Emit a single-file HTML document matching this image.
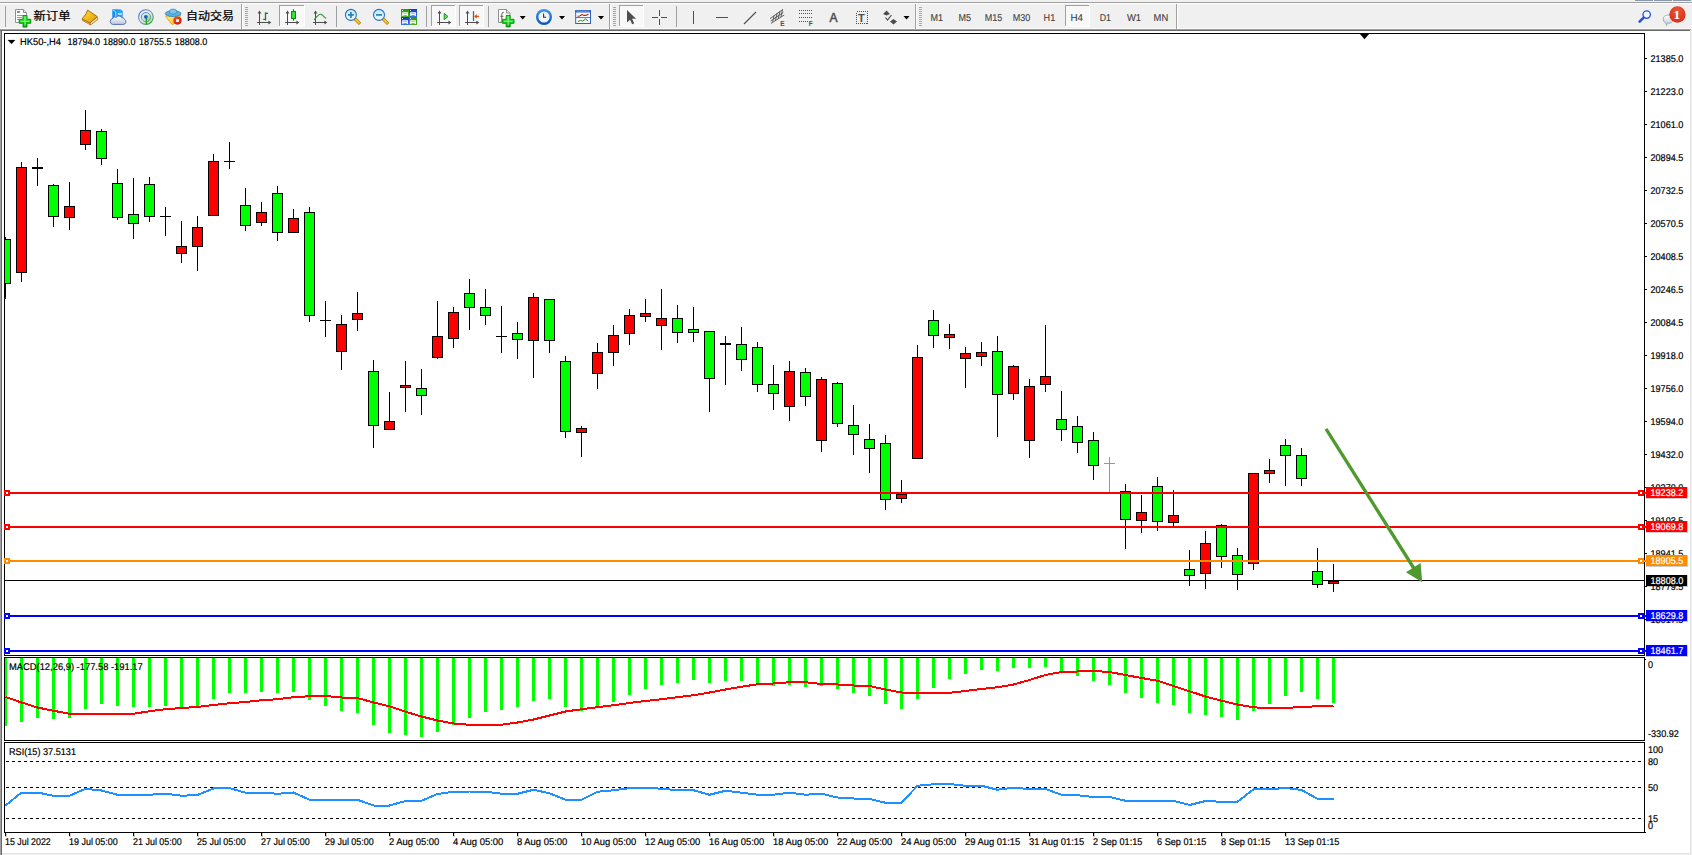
<!DOCTYPE html>
<html lang="zh-CN"><head><meta charset="utf-8"><title>HK50-,H4</title>
<style>
html,body{margin:0;padding:0;background:#f0f0f0;overflow:hidden}
body{width:1692px;height:855px;font-family:"Liberation Sans","Noto Sans CJK SC",sans-serif}
svg{display:block;position:absolute;left:0;top:0}
svg text{white-space:pre}
</style></head><body>
<svg width="1692" height="855" viewBox="0 0 1692 855">
<rect x="0" y="0" width="1692" height="855" fill="#f0f0f0"/>
<rect x="1635" y="0" width="18" height="1" fill="#8a98ae"/>
<rect x="1654" y="0" width="18" height="1" fill="#8a98ae"/>
<rect x="1673" y="0" width="18" height="1" fill="#8a98ae"/>
<rect x="0" y="2" width="1692" height="1" fill="#a0a0a0"/>
<rect x="0" y="3" width="1692" height="1" fill="#ffffff"/>
<rect x="0" y="28" width="1692" height="1" fill="#fafafa"/>
<rect x="0" y="29" width="1691" height="1" fill="#a0a0a0"/>
<rect x="0" y="30" width="1690" height="1" fill="#696969"/>
<rect x="0" y="31" width="1" height="824" fill="#a0a0a0"/>
<rect x="1" y="31" width="1" height="824" fill="#696969"/>
<rect x="2" y="31" width="1688" height="822" fill="#ffffff"/>
<rect x="1690" y="31" width="1" height="823" fill="#e3e3e3"/>
<rect x="2" y="853" width="1689" height="1" fill="#e3e3e3"/>
<g shape-rendering="crispEdges">
<rect x="4" y="33" width="1641" height="1" fill="#000"/>
<rect x="4" y="655" width="1641" height="1" fill="#000"/>
<rect x="4" y="33" width="1" height="623" fill="#000"/>
<rect x="1644" y="33" width="1" height="623" fill="#000"/>
<rect x="4" y="657" width="1641" height="1" fill="#000"/>
<rect x="4" y="740" width="1641" height="1" fill="#000"/>
<rect x="4" y="657" width="1" height="84" fill="#000"/>
<rect x="1644" y="657" width="1" height="84" fill="#000"/>
<rect x="4" y="742" width="1641" height="1" fill="#000"/>
<rect x="4" y="832" width="1641" height="1" fill="#000"/>
<rect x="4" y="742" width="1" height="91" fill="#000"/>
<rect x="1644" y="742" width="1" height="91" fill="#000"/>
<rect x="1645" y="832" width="1" height="1" fill="#000"/>
<rect x="1645" y="659" width="1" height="1" fill="#000"/>
<rect x="5" y="580" width="1639" height="1" fill="#000"/>
<path d="M1359.5 33.5 H1369.5 L1364.5 39.2 Z" fill="#000" shape-rendering="geometricPrecision"/>
<rect x="5" y="237" width="1" height="62" fill="#000"/>
<rect x="5" y="239" width="6" height="45" fill="#000"/>
<rect x="5" y="240" width="5" height="43" fill="#00ff00"/>
<rect x="21" y="162" width="1" height="120" fill="#000"/>
<rect x="16" y="167" width="11" height="106" fill="#000"/>
<rect x="17" y="168" width="9" height="104" fill="#ff0000"/>
<rect x="37" y="158" width="1" height="28" fill="#000"/>
<rect x="32" y="167" width="11" height="2" fill="#000"/>
<rect x="53" y="184" width="1" height="43" fill="#000"/>
<rect x="48" y="185" width="11" height="32" fill="#000"/>
<rect x="49" y="186" width="9" height="30" fill="#00ff00"/>
<rect x="69" y="182" width="1" height="48" fill="#000"/>
<rect x="64" y="206" width="11" height="12" fill="#000"/>
<rect x="65" y="207" width="9" height="10" fill="#ff0000"/>
<rect x="85" y="110" width="1" height="40" fill="#000"/>
<rect x="80" y="130" width="11" height="15" fill="#000"/>
<rect x="81" y="131" width="9" height="13" fill="#ff0000"/>
<rect x="101" y="129" width="1" height="36" fill="#000"/>
<rect x="96" y="131" width="11" height="28" fill="#000"/>
<rect x="97" y="132" width="9" height="26" fill="#00ff00"/>
<rect x="117" y="169" width="1" height="51" fill="#000"/>
<rect x="112" y="183" width="11" height="35" fill="#000"/>
<rect x="113" y="184" width="9" height="33" fill="#00ff00"/>
<rect x="133" y="178" width="1" height="61" fill="#000"/>
<rect x="128" y="214" width="11" height="10" fill="#000"/>
<rect x="129" y="215" width="9" height="8" fill="#00ff00"/>
<rect x="149" y="177" width="1" height="45" fill="#000"/>
<rect x="144" y="184" width="11" height="33" fill="#000"/>
<rect x="145" y="185" width="9" height="31" fill="#00ff00"/>
<rect x="165" y="207" width="1" height="29" fill="#000"/>
<rect x="160" y="216" width="11" height="1" fill="#000"/>
<rect x="181" y="221" width="1" height="42" fill="#000"/>
<rect x="176" y="246" width="11" height="8" fill="#000"/>
<rect x="177" y="247" width="9" height="6" fill="#ff0000"/>
<rect x="197" y="216" width="1" height="55" fill="#000"/>
<rect x="192" y="227" width="11" height="20" fill="#000"/>
<rect x="193" y="228" width="9" height="18" fill="#ff0000"/>
<rect x="213" y="154" width="1" height="62" fill="#000"/>
<rect x="208" y="161" width="11" height="55" fill="#000"/>
<rect x="209" y="162" width="9" height="53" fill="#ff0000"/>
<rect x="229" y="142" width="1" height="27" fill="#000"/>
<rect x="224" y="161" width="11" height="1" fill="#000"/>
<rect x="245" y="188" width="1" height="43" fill="#000"/>
<rect x="240" y="205" width="11" height="21" fill="#000"/>
<rect x="241" y="206" width="9" height="19" fill="#00ff00"/>
<rect x="261" y="202" width="1" height="24" fill="#000"/>
<rect x="256" y="212" width="11" height="11" fill="#000"/>
<rect x="257" y="213" width="9" height="9" fill="#ff0000"/>
<rect x="277" y="186" width="1" height="55" fill="#000"/>
<rect x="272" y="193" width="11" height="40" fill="#000"/>
<rect x="273" y="194" width="9" height="38" fill="#00ff00"/>
<rect x="293" y="209" width="1" height="24" fill="#000"/>
<rect x="288" y="218" width="11" height="15" fill="#000"/>
<rect x="289" y="219" width="9" height="13" fill="#ff0000"/>
<rect x="309" y="207" width="1" height="115" fill="#000"/>
<rect x="304" y="212" width="11" height="104" fill="#000"/>
<rect x="305" y="213" width="9" height="102" fill="#00ff00"/>
<rect x="325" y="301" width="1" height="36" fill="#000"/>
<rect x="320" y="320" width="11" height="1" fill="#000"/>
<rect x="341" y="315" width="1" height="55" fill="#000"/>
<rect x="336" y="324" width="11" height="28" fill="#000"/>
<rect x="337" y="325" width="9" height="26" fill="#ff0000"/>
<rect x="357" y="292" width="1" height="39" fill="#000"/>
<rect x="352" y="313" width="11" height="7" fill="#000"/>
<rect x="353" y="314" width="9" height="5" fill="#ff0000"/>
<rect x="373" y="360" width="1" height="88" fill="#000"/>
<rect x="368" y="371" width="11" height="55" fill="#000"/>
<rect x="369" y="372" width="9" height="53" fill="#00ff00"/>
<rect x="389" y="392" width="1" height="38" fill="#000"/>
<rect x="384" y="421" width="11" height="9" fill="#000"/>
<rect x="385" y="422" width="9" height="7" fill="#ff0000"/>
<rect x="405" y="361" width="1" height="51" fill="#000"/>
<rect x="400" y="385" width="11" height="3" fill="#000"/>
<rect x="401" y="386" width="9" height="1" fill="#ff0000"/>
<rect x="421" y="369" width="1" height="46" fill="#000"/>
<rect x="416" y="388" width="11" height="8" fill="#000"/>
<rect x="417" y="389" width="9" height="6" fill="#00ff00"/>
<rect x="437" y="301" width="1" height="58" fill="#000"/>
<rect x="432" y="336" width="11" height="22" fill="#000"/>
<rect x="433" y="337" width="9" height="20" fill="#ff0000"/>
<rect x="453" y="307" width="1" height="41" fill="#000"/>
<rect x="448" y="312" width="11" height="27" fill="#000"/>
<rect x="449" y="313" width="9" height="25" fill="#ff0000"/>
<rect x="469" y="279" width="1" height="51" fill="#000"/>
<rect x="464" y="293" width="11" height="15" fill="#000"/>
<rect x="465" y="294" width="9" height="13" fill="#00ff00"/>
<rect x="485" y="289" width="1" height="36" fill="#000"/>
<rect x="480" y="307" width="11" height="9" fill="#000"/>
<rect x="481" y="308" width="9" height="7" fill="#00ff00"/>
<rect x="501" y="306" width="1" height="47" fill="#000"/>
<rect x="496" y="336" width="11" height="1" fill="#000"/>
<rect x="517" y="322" width="1" height="37" fill="#000"/>
<rect x="512" y="333" width="11" height="7" fill="#000"/>
<rect x="513" y="334" width="9" height="5" fill="#00ff00"/>
<rect x="533" y="293" width="1" height="85" fill="#000"/>
<rect x="528" y="297" width="11" height="44" fill="#000"/>
<rect x="529" y="298" width="9" height="42" fill="#ff0000"/>
<rect x="549" y="299" width="1" height="54" fill="#000"/>
<rect x="544" y="299" width="11" height="42" fill="#000"/>
<rect x="545" y="300" width="9" height="40" fill="#00ff00"/>
<rect x="565" y="356" width="1" height="82" fill="#000"/>
<rect x="560" y="361" width="11" height="71" fill="#000"/>
<rect x="561" y="362" width="9" height="69" fill="#00ff00"/>
<rect x="581" y="426" width="1" height="31" fill="#000"/>
<rect x="576" y="428" width="11" height="5" fill="#000"/>
<rect x="577" y="429" width="9" height="3" fill="#ff0000"/>
<rect x="597" y="343" width="1" height="46" fill="#000"/>
<rect x="592" y="352" width="11" height="22" fill="#000"/>
<rect x="593" y="353" width="9" height="20" fill="#ff0000"/>
<rect x="613" y="325" width="1" height="41" fill="#000"/>
<rect x="608" y="335" width="11" height="18" fill="#000"/>
<rect x="609" y="336" width="9" height="16" fill="#ff0000"/>
<rect x="629" y="309" width="1" height="36" fill="#000"/>
<rect x="624" y="315" width="11" height="19" fill="#000"/>
<rect x="625" y="316" width="9" height="17" fill="#ff0000"/>
<rect x="645" y="299" width="1" height="23" fill="#000"/>
<rect x="640" y="313" width="11" height="4" fill="#000"/>
<rect x="641" y="314" width="9" height="2" fill="#ff0000"/>
<rect x="661" y="289" width="1" height="61" fill="#000"/>
<rect x="656" y="318" width="11" height="8" fill="#000"/>
<rect x="657" y="319" width="9" height="6" fill="#ff0000"/>
<rect x="677" y="305" width="1" height="38" fill="#000"/>
<rect x="672" y="318" width="11" height="15" fill="#000"/>
<rect x="673" y="319" width="9" height="13" fill="#00ff00"/>
<rect x="693" y="307" width="1" height="35" fill="#000"/>
<rect x="688" y="329" width="11" height="4" fill="#000"/>
<rect x="689" y="330" width="9" height="2" fill="#00ff00"/>
<rect x="709" y="331" width="1" height="81" fill="#000"/>
<rect x="704" y="331" width="11" height="48" fill="#000"/>
<rect x="705" y="332" width="9" height="46" fill="#00ff00"/>
<rect x="725" y="336" width="1" height="49" fill="#000"/>
<rect x="720" y="343" width="11" height="2" fill="#000"/>
<rect x="741" y="327" width="1" height="44" fill="#000"/>
<rect x="736" y="344" width="11" height="16" fill="#000"/>
<rect x="737" y="345" width="9" height="14" fill="#00ff00"/>
<rect x="757" y="342" width="1" height="50" fill="#000"/>
<rect x="752" y="347" width="11" height="38" fill="#000"/>
<rect x="753" y="348" width="9" height="36" fill="#00ff00"/>
<rect x="773" y="365" width="1" height="45" fill="#000"/>
<rect x="768" y="384" width="11" height="10" fill="#000"/>
<rect x="769" y="385" width="9" height="8" fill="#00ff00"/>
<rect x="789" y="361" width="1" height="60" fill="#000"/>
<rect x="784" y="371" width="11" height="36" fill="#000"/>
<rect x="785" y="372" width="9" height="34" fill="#ff0000"/>
<rect x="805" y="368" width="1" height="38" fill="#000"/>
<rect x="800" y="372" width="11" height="25" fill="#000"/>
<rect x="801" y="373" width="9" height="23" fill="#00ff00"/>
<rect x="821" y="377" width="1" height="75" fill="#000"/>
<rect x="816" y="379" width="11" height="62" fill="#000"/>
<rect x="817" y="380" width="9" height="60" fill="#ff0000"/>
<rect x="837" y="382" width="1" height="45" fill="#000"/>
<rect x="832" y="383" width="11" height="41" fill="#000"/>
<rect x="833" y="384" width="9" height="39" fill="#00ff00"/>
<rect x="853" y="405" width="1" height="50" fill="#000"/>
<rect x="848" y="425" width="11" height="10" fill="#000"/>
<rect x="849" y="426" width="9" height="8" fill="#00ff00"/>
<rect x="869" y="424" width="1" height="49" fill="#000"/>
<rect x="864" y="439" width="11" height="10" fill="#000"/>
<rect x="865" y="440" width="9" height="8" fill="#00ff00"/>
<rect x="885" y="435" width="1" height="75" fill="#000"/>
<rect x="880" y="443" width="11" height="57" fill="#000"/>
<rect x="881" y="444" width="9" height="55" fill="#00ff00"/>
<rect x="901" y="480" width="1" height="23" fill="#000"/>
<rect x="896" y="494" width="11" height="5" fill="#000"/>
<rect x="897" y="495" width="9" height="3" fill="#ff0000"/>
<rect x="917" y="345" width="1" height="114" fill="#000"/>
<rect x="912" y="357" width="11" height="102" fill="#000"/>
<rect x="913" y="358" width="9" height="100" fill="#ff0000"/>
<rect x="933" y="310" width="1" height="38" fill="#000"/>
<rect x="928" y="320" width="11" height="16" fill="#000"/>
<rect x="929" y="321" width="9" height="14" fill="#00ff00"/>
<rect x="949" y="324" width="1" height="25" fill="#000"/>
<rect x="944" y="334" width="11" height="4" fill="#000"/>
<rect x="945" y="335" width="9" height="2" fill="#ff0000"/>
<rect x="965" y="347" width="1" height="41" fill="#000"/>
<rect x="960" y="353" width="11" height="6" fill="#000"/>
<rect x="961" y="354" width="9" height="4" fill="#ff0000"/>
<rect x="981" y="342" width="1" height="24" fill="#000"/>
<rect x="976" y="352" width="11" height="5" fill="#000"/>
<rect x="977" y="353" width="9" height="3" fill="#ff0000"/>
<rect x="997" y="336" width="1" height="101" fill="#000"/>
<rect x="992" y="351" width="11" height="44" fill="#000"/>
<rect x="993" y="352" width="9" height="42" fill="#00ff00"/>
<rect x="1013" y="365" width="1" height="35" fill="#000"/>
<rect x="1008" y="366" width="11" height="28" fill="#000"/>
<rect x="1009" y="367" width="9" height="26" fill="#ff0000"/>
<rect x="1029" y="379" width="1" height="79" fill="#000"/>
<rect x="1024" y="386" width="11" height="55" fill="#000"/>
<rect x="1025" y="387" width="9" height="53" fill="#ff0000"/>
<rect x="1045" y="325" width="1" height="67" fill="#000"/>
<rect x="1040" y="376" width="11" height="9" fill="#000"/>
<rect x="1041" y="377" width="9" height="7" fill="#ff0000"/>
<rect x="1061" y="391" width="1" height="50" fill="#000"/>
<rect x="1056" y="419" width="11" height="11" fill="#000"/>
<rect x="1057" y="420" width="9" height="9" fill="#00ff00"/>
<rect x="1077" y="416" width="1" height="37" fill="#000"/>
<rect x="1072" y="426" width="11" height="17" fill="#000"/>
<rect x="1073" y="427" width="9" height="15" fill="#00ff00"/>
<rect x="1093" y="432" width="1" height="48" fill="#000"/>
<rect x="1088" y="440" width="11" height="26" fill="#000"/>
<rect x="1089" y="441" width="9" height="24" fill="#00ff00"/>
<rect x="1109" y="457" width="1" height="35" fill="#00ff00"/>
<rect x="1104" y="463" width="11" height="1" fill="#00ff00"/>
<rect x="1125" y="484" width="1" height="65" fill="#000"/>
<rect x="1120" y="491" width="11" height="29" fill="#000"/>
<rect x="1121" y="492" width="9" height="27" fill="#00ff00"/>
<rect x="1141" y="495" width="1" height="38" fill="#000"/>
<rect x="1136" y="512" width="11" height="9" fill="#000"/>
<rect x="1137" y="513" width="9" height="7" fill="#ff0000"/>
<rect x="1157" y="477" width="1" height="54" fill="#000"/>
<rect x="1152" y="486" width="11" height="36" fill="#000"/>
<rect x="1153" y="487" width="9" height="34" fill="#00ff00"/>
<rect x="1173" y="490" width="1" height="36" fill="#000"/>
<rect x="1168" y="515" width="11" height="8" fill="#000"/>
<rect x="1169" y="516" width="9" height="6" fill="#ff0000"/>
<rect x="1189" y="550" width="1" height="36" fill="#000"/>
<rect x="1184" y="569" width="11" height="7" fill="#000"/>
<rect x="1185" y="570" width="9" height="5" fill="#00ff00"/>
<rect x="1205" y="531" width="1" height="58" fill="#000"/>
<rect x="1200" y="543" width="11" height="31" fill="#000"/>
<rect x="1201" y="544" width="9" height="29" fill="#ff0000"/>
<rect x="1221" y="524" width="1" height="44" fill="#000"/>
<rect x="1216" y="525" width="11" height="32" fill="#000"/>
<rect x="1217" y="526" width="9" height="30" fill="#00ff00"/>
<rect x="1237" y="548" width="1" height="42" fill="#000"/>
<rect x="1232" y="555" width="11" height="20" fill="#000"/>
<rect x="1233" y="556" width="9" height="18" fill="#00ff00"/>
<rect x="1253" y="473" width="1" height="97" fill="#000"/>
<rect x="1248" y="473" width="11" height="91" fill="#000"/>
<rect x="1249" y="474" width="9" height="89" fill="#ff0000"/>
<rect x="1269" y="459" width="1" height="24" fill="#000"/>
<rect x="1264" y="470" width="11" height="4" fill="#000"/>
<rect x="1265" y="471" width="9" height="2" fill="#ff0000"/>
<rect x="1285" y="439" width="1" height="47" fill="#000"/>
<rect x="1280" y="445" width="11" height="11" fill="#000"/>
<rect x="1281" y="446" width="9" height="9" fill="#00ff00"/>
<rect x="1301" y="448" width="1" height="38" fill="#000"/>
<rect x="1296" y="455" width="11" height="24" fill="#000"/>
<rect x="1297" y="456" width="9" height="22" fill="#00ff00"/>
<rect x="1317" y="548" width="1" height="40" fill="#000"/>
<rect x="1312" y="571" width="11" height="14" fill="#000"/>
<rect x="1313" y="572" width="9" height="12" fill="#00ff00"/>
<rect x="1333" y="564" width="1" height="28" fill="#000"/>
<rect x="1328" y="581" width="11" height="3" fill="#000"/>
<rect x="1329" y="582" width="9" height="1" fill="#ff0000"/>
<rect x="5" y="658" width="2" height="68" fill="#00ff00"/>
<rect x="20" y="658" width="3" height="64" fill="#00ff00"/>
<rect x="36" y="658" width="3" height="60" fill="#00ff00"/>
<rect x="52" y="658" width="3" height="61" fill="#00ff00"/>
<rect x="68" y="658" width="3" height="60" fill="#00ff00"/>
<rect x="84" y="658" width="3" height="51" fill="#00ff00"/>
<rect x="100" y="658" width="3" height="46" fill="#00ff00"/>
<rect x="116" y="658" width="3" height="48" fill="#00ff00"/>
<rect x="132" y="658" width="3" height="49" fill="#00ff00"/>
<rect x="148" y="658" width="3" height="49" fill="#00ff00"/>
<rect x="164" y="658" width="3" height="48" fill="#00ff00"/>
<rect x="180" y="658" width="3" height="51" fill="#00ff00"/>
<rect x="196" y="658" width="3" height="49" fill="#00ff00"/>
<rect x="212" y="658" width="3" height="41" fill="#00ff00"/>
<rect x="228" y="658" width="3" height="35" fill="#00ff00"/>
<rect x="244" y="658" width="3" height="35" fill="#00ff00"/>
<rect x="260" y="658" width="3" height="34" fill="#00ff00"/>
<rect x="276" y="658" width="3" height="35" fill="#00ff00"/>
<rect x="292" y="658" width="3" height="34" fill="#00ff00"/>
<rect x="308" y="658" width="3" height="42" fill="#00ff00"/>
<rect x="324" y="658" width="3" height="48" fill="#00ff00"/>
<rect x="340" y="658" width="3" height="53" fill="#00ff00"/>
<rect x="356" y="658" width="3" height="55" fill="#00ff00"/>
<rect x="372" y="658" width="3" height="67" fill="#00ff00"/>
<rect x="388" y="658" width="3" height="75" fill="#00ff00"/>
<rect x="404" y="658" width="3" height="77" fill="#00ff00"/>
<rect x="420" y="658" width="3" height="79" fill="#00ff00"/>
<rect x="436" y="658" width="3" height="74" fill="#00ff00"/>
<rect x="452" y="658" width="3" height="67" fill="#00ff00"/>
<rect x="468" y="658" width="3" height="60" fill="#00ff00"/>
<rect x="484" y="658" width="3" height="54" fill="#00ff00"/>
<rect x="500" y="658" width="3" height="52" fill="#00ff00"/>
<rect x="516" y="658" width="3" height="49" fill="#00ff00"/>
<rect x="532" y="658" width="3" height="43" fill="#00ff00"/>
<rect x="548" y="658" width="3" height="41" fill="#00ff00"/>
<rect x="564" y="658" width="3" height="49" fill="#00ff00"/>
<rect x="580" y="658" width="3" height="53" fill="#00ff00"/>
<rect x="596" y="658" width="3" height="49" fill="#00ff00"/>
<rect x="612" y="658" width="3" height="44" fill="#00ff00"/>
<rect x="628" y="658" width="3" height="37" fill="#00ff00"/>
<rect x="644" y="658" width="3" height="31" fill="#00ff00"/>
<rect x="660" y="658" width="3" height="27" fill="#00ff00"/>
<rect x="676" y="658" width="3" height="25" fill="#00ff00"/>
<rect x="692" y="658" width="3" height="22" fill="#00ff00"/>
<rect x="708" y="658" width="3" height="25" fill="#00ff00"/>
<rect x="724" y="658" width="3" height="23" fill="#00ff00"/>
<rect x="740" y="658" width="3" height="23" fill="#00ff00"/>
<rect x="756" y="658" width="3" height="26" fill="#00ff00"/>
<rect x="772" y="658" width="3" height="28" fill="#00ff00"/>
<rect x="788" y="658" width="3" height="27" fill="#00ff00"/>
<rect x="804" y="658" width="3" height="29" fill="#00ff00"/>
<rect x="820" y="658" width="3" height="28" fill="#00ff00"/>
<rect x="836" y="658" width="3" height="31" fill="#00ff00"/>
<rect x="852" y="658" width="3" height="35" fill="#00ff00"/>
<rect x="868" y="658" width="3" height="38" fill="#00ff00"/>
<rect x="884" y="658" width="3" height="46" fill="#00ff00"/>
<rect x="900" y="658" width="3" height="51" fill="#00ff00"/>
<rect x="916" y="658" width="3" height="41" fill="#00ff00"/>
<rect x="932" y="658" width="3" height="30" fill="#00ff00"/>
<rect x="948" y="658" width="3" height="21" fill="#00ff00"/>
<rect x="964" y="658" width="3" height="16" fill="#00ff00"/>
<rect x="980" y="658" width="3" height="12" fill="#00ff00"/>
<rect x="996" y="658" width="3" height="13" fill="#00ff00"/>
<rect x="1012" y="658" width="3" height="10" fill="#00ff00"/>
<rect x="1028" y="658" width="3" height="10" fill="#00ff00"/>
<rect x="1044" y="658" width="3" height="9" fill="#00ff00"/>
<rect x="1060" y="658" width="3" height="13" fill="#00ff00"/>
<rect x="1076" y="658" width="3" height="18" fill="#00ff00"/>
<rect x="1092" y="658" width="3" height="23" fill="#00ff00"/>
<rect x="1108" y="658" width="3" height="27" fill="#00ff00"/>
<rect x="1124" y="658" width="3" height="35" fill="#00ff00"/>
<rect x="1140" y="658" width="3" height="40" fill="#00ff00"/>
<rect x="1156" y="658" width="3" height="45" fill="#00ff00"/>
<rect x="1172" y="658" width="3" height="47" fill="#00ff00"/>
<rect x="1188" y="658" width="3" height="55" fill="#00ff00"/>
<rect x="1204" y="658" width="3" height="57" fill="#00ff00"/>
<rect x="1220" y="658" width="3" height="59" fill="#00ff00"/>
<rect x="1236" y="658" width="3" height="62" fill="#00ff00"/>
<rect x="1252" y="658" width="3" height="53" fill="#00ff00"/>
<rect x="1268" y="658" width="3" height="46" fill="#00ff00"/>
<rect x="1284" y="658" width="3" height="38" fill="#00ff00"/>
<rect x="1300" y="658" width="3" height="34" fill="#00ff00"/>
<rect x="1316" y="658" width="3" height="41" fill="#00ff00"/>
<rect x="1332" y="658" width="3" height="45" fill="#00ff00"/>
</g>
<polyline points="5.5,697 21.5,702.5 37.5,707.5 53.5,710.75 69.5,713.75 85.5,713.75 101.5,713.75 117.5,713.75 133.5,713.75 149.5,711.25 165.5,709.25 181.5,708 197.5,707 213.5,705 229.5,703.25 245.5,702 261.5,700.25 277.5,699.25 293.5,697.25 309.5,696.25 325.5,696 341.5,697.5 357.5,698 373.5,702.5 389.5,706.25 405.5,711.75 421.5,716.5 437.5,720.5 453.5,723.5 469.5,724.75 485.5,724.75 501.5,724.75 517.5,722.5 533.5,719.5 549.5,715.5 565.5,711.5 581.5,709.25 597.5,707.25 613.5,705.25 629.5,703 645.5,701 661.5,699.25 677.5,697.25 693.5,695.25 709.5,692.5 725.5,689.5 741.5,686.75 757.5,684.25 773.5,683.5 789.5,682.25 805.5,682.25 821.5,684 837.5,684.5 853.5,685.5 869.5,686 885.5,689.5 901.5,692.5 917.5,692.75 933.5,692.75 949.5,692.75 965.5,691 981.5,689 997.5,687.25 1013.5,684.5 1029.5,680 1045.5,675 1061.5,672 1077.5,671.5 1093.5,671 1109.5,672 1125.5,675 1141.5,678 1157.5,680.75 1173.5,686 1189.5,691.25 1205.5,696.5 1221.5,700.75 1237.5,704.5 1253.5,707.25 1269.5,708.5 1285.5,708 1301.5,707 1317.5,706.25 1333.5,705.75" fill="none" stroke="#ff0000" stroke-width="2" stroke-linejoin="round" shape-rendering="crispEdges"/>
<g shape-rendering="crispEdges">
<line x1="6" y1="761.5" x2="1642" y2="761.5" stroke="#000" stroke-width="1" stroke-dasharray="3 3"/>
<line x1="6" y1="787.5" x2="1642" y2="787.5" stroke="#000" stroke-width="1" stroke-dasharray="3 3"/>
<line x1="6" y1="818.5" x2="1642" y2="818.5" stroke="#000" stroke-width="1" stroke-dasharray="3 3"/>
</g>
<polyline points="5.5,805.5 21.5,792.5 37.5,792.5 53.5,795.75 69.5,795.75 85.5,788.75 101.5,790.5 117.5,794.75 133.5,794.75 149.5,794.75 165.5,793.75 181.5,795.75 197.5,795 213.5,788.5 229.5,788 245.5,792.75 261.5,792.75 277.5,793.75 293.5,792.5 309.5,799.75 325.5,799.75 341.5,799.75 357.5,799.75 373.5,805.5 389.5,805.5 405.5,801 421.5,800.75 437.5,794 453.5,791.75 469.5,791.5 485.5,791.75 501.5,793.75 517.5,793.75 533.5,789.75 549.5,793.25 565.5,799.75 581.5,799.75 597.5,791.75 613.5,790.25 629.5,788.25 645.5,787.75 661.5,788.75 677.5,790.25 693.5,790.25 709.5,794.75 725.5,790.75 741.5,792.75 757.5,794.75 773.5,794.75 789.5,792.75 805.5,794.75 821.5,793.75 837.5,797.5 853.5,798.5 869.5,799 885.5,802.75 901.5,802.75 917.5,785.75 933.5,784.25 949.5,784 965.5,785.75 981.5,785.75 997.5,789.75 1013.5,787.75 1029.5,789 1045.5,789 1061.5,794.75 1077.5,795.25 1093.5,797 1109.5,797 1125.5,800.75 1141.5,800.75 1157.5,800.75 1173.5,800.75 1189.5,805 1205.5,801 1221.5,801.75 1237.5,801.75 1253.5,789.25 1269.5,789.25 1285.5,788 1301.5,790 1317.5,798.75 1333.5,798.75" fill="none" stroke="#1e90ff" stroke-width="2" stroke-linejoin="round" shape-rendering="crispEdges"/>
<g shape-rendering="crispEdges">
<rect x="5" y="492" width="1641" height="2" fill="#ff0000"/>
<rect x="4" y="490" width="6" height="6" fill="#ff0000"/>
<rect x="6" y="492" width="2" height="2" fill="#fff"/>
<rect x="1638" y="490" width="6" height="6" fill="#ff0000"/>
<rect x="1640" y="492" width="2" height="2" fill="#fff"/>
<rect x="5" y="526" width="1641" height="2" fill="#ff0000"/>
<rect x="4" y="524" width="6" height="6" fill="#ff0000"/>
<rect x="6" y="526" width="2" height="2" fill="#fff"/>
<rect x="1638" y="524" width="6" height="6" fill="#ff0000"/>
<rect x="1640" y="526" width="2" height="2" fill="#fff"/>
<rect x="5" y="560" width="1641" height="2" fill="#ff8c00"/>
<rect x="4" y="558" width="6" height="6" fill="#ff8c00"/>
<rect x="6" y="560" width="2" height="2" fill="#fff"/>
<rect x="1638" y="558" width="6" height="6" fill="#ff8c00"/>
<rect x="1640" y="560" width="2" height="2" fill="#fff"/>
<rect x="5" y="615" width="1641" height="2" fill="#0000ff"/>
<rect x="4" y="613" width="6" height="6" fill="#0000ff"/>
<rect x="6" y="615" width="2" height="2" fill="#fff"/>
<rect x="1638" y="613" width="6" height="6" fill="#0000ff"/>
<rect x="1640" y="615" width="2" height="2" fill="#fff"/>
<rect x="5" y="650" width="1641" height="2" fill="#0000ff"/>
<rect x="4" y="648" width="6" height="6" fill="#0000ff"/>
<rect x="6" y="650" width="2" height="2" fill="#fff"/>
<rect x="1638" y="648" width="6" height="6" fill="#0000ff"/>
<rect x="1640" y="650" width="2" height="2" fill="#fff"/>
</g>
<line x1="1326" y1="428.8" x2="1414" y2="568.5" stroke="#4e9a2e" stroke-width="3.3"/>
<path d="M1422.2 582.2 L1406 572.3 L1420.6 563 Z" fill="#4e9a2e"/>
<g shape-rendering="crispEdges">
<rect x="1645" y="58" width="2" height="1" fill="#000"/>
<rect x="1645" y="91" width="2" height="1" fill="#000"/>
<rect x="1645" y="124" width="2" height="1" fill="#000"/>
<rect x="1645" y="157" width="2" height="1" fill="#000"/>
<rect x="1645" y="190" width="2" height="1" fill="#000"/>
<rect x="1645" y="223" width="2" height="1" fill="#000"/>
<rect x="1645" y="256" width="2" height="1" fill="#000"/>
<rect x="1645" y="289" width="2" height="1" fill="#000"/>
<rect x="1645" y="322" width="2" height="1" fill="#000"/>
<rect x="1645" y="355" width="2" height="1" fill="#000"/>
<rect x="1645" y="388" width="2" height="1" fill="#000"/>
<rect x="1645" y="421" width="2" height="1" fill="#000"/>
<rect x="1645" y="454" width="2" height="1" fill="#000"/>
<rect x="1645" y="487" width="2" height="1" fill="#000"/>
<rect x="1645" y="520" width="2" height="1" fill="#000"/>
<rect x="1645" y="553" width="2" height="1" fill="#000"/>
<rect x="1645" y="586" width="2" height="1" fill="#000"/>
<rect x="1645" y="619" width="2" height="1" fill="#000"/>
</g>
<g font-family="'Liberation Sans', Arial, sans-serif" stroke="#000" stroke-width="0.2" paint-order="stroke" style="text-rendering:geometricPrecision">
<text transform="translate(1650.5 62) scale(0.928 1)" font-size="9.8" fill="#000" text-anchor="start">21385.0</text>
<text transform="translate(1650.5 95) scale(0.928 1)" font-size="9.8" fill="#000" text-anchor="start">21223.0</text>
<text transform="translate(1650.5 128) scale(0.928 1)" font-size="9.8" fill="#000" text-anchor="start">21061.0</text>
<text transform="translate(1650.5 161) scale(0.928 1)" font-size="9.8" fill="#000" text-anchor="start">20894.5</text>
<text transform="translate(1650.5 194) scale(0.928 1)" font-size="9.8" fill="#000" text-anchor="start">20732.5</text>
<text transform="translate(1650.5 227) scale(0.928 1)" font-size="9.8" fill="#000" text-anchor="start">20570.5</text>
<text transform="translate(1650.5 260) scale(0.928 1)" font-size="9.8" fill="#000" text-anchor="start">20408.5</text>
<text transform="translate(1650.5 293) scale(0.928 1)" font-size="9.8" fill="#000" text-anchor="start">20246.5</text>
<text transform="translate(1650.5 326) scale(0.928 1)" font-size="9.8" fill="#000" text-anchor="start">20084.5</text>
<text transform="translate(1650.5 359) scale(0.928 1)" font-size="9.8" fill="#000" text-anchor="start">19918.0</text>
<text transform="translate(1650.5 392) scale(0.928 1)" font-size="9.8" fill="#000" text-anchor="start">19756.0</text>
<text transform="translate(1650.5 425) scale(0.928 1)" font-size="9.8" fill="#000" text-anchor="start">19594.0</text>
<text transform="translate(1650.5 458) scale(0.928 1)" font-size="9.8" fill="#000" text-anchor="start">19432.0</text>
<text transform="translate(1650.5 491) scale(0.928 1)" font-size="9.8" fill="#000" text-anchor="start">19270.0</text>
<text transform="translate(1650.5 524) scale(0.928 1)" font-size="9.8" fill="#000" text-anchor="start">19103.5</text>
<text transform="translate(1650.5 557) scale(0.928 1)" font-size="9.8" fill="#000" text-anchor="start">18941.5</text>
<text transform="translate(1650.5 590) scale(0.928 1)" font-size="9.8" fill="#000" text-anchor="start">18779.5</text>
<text transform="translate(1650.5 623) scale(0.928 1)" font-size="9.8" fill="#000" text-anchor="start">18617.5</text>
<g shape-rendering="crispEdges">
<rect x="1646" y="487" width="41" height="11" fill="#ff0000"/>
<rect x="1646" y="521" width="41" height="11" fill="#ff0000"/>
<rect x="1646" y="555" width="41" height="11" fill="#ff8c00"/>
<rect x="1646" y="610" width="41" height="11" fill="#0000ff"/>
<rect x="1646" y="645" width="41" height="11" fill="#0000ff"/>
<rect x="1646" y="575" width="41" height="11" fill="#000"/>
</g>
<text transform="translate(1650.5 496) scale(0.928 1)" font-size="9.8" fill="#fff" text-anchor="start" stroke="#fff">19238.2</text>
<text transform="translate(1650.5 530) scale(0.928 1)" font-size="9.8" fill="#fff" text-anchor="start" stroke="#fff">19069.8</text>
<text transform="translate(1650.5 564) scale(0.928 1)" font-size="9.8" fill="#fff" text-anchor="start" stroke="#fff">18905.5</text>
<text transform="translate(1650.5 619) scale(0.928 1)" font-size="9.8" fill="#fff" text-anchor="start" stroke="#fff">18629.8</text>
<text transform="translate(1650.5 654) scale(0.928 1)" font-size="9.8" fill="#fff" text-anchor="start" stroke="#fff">18461.7</text>
<text transform="translate(1650.5 584) scale(0.928 1)" font-size="9.8" fill="#fff" text-anchor="start" stroke="#fff">18808.0</text>
<text transform="translate(1648 668) scale(0.928 1)" font-size="9.8" fill="#000" text-anchor="start">0</text>
<text transform="translate(1648 737) scale(0.928 1)" font-size="9.8" fill="#000" text-anchor="start">-330.92</text>
<text transform="translate(1648 753) scale(0.928 1)" font-size="9.8" fill="#000" text-anchor="start">100</text>
<text transform="translate(1648 765) scale(0.928 1)" font-size="9.8" fill="#000" text-anchor="start">80</text>
<text transform="translate(1648 791) scale(0.928 1)" font-size="9.8" fill="#000" text-anchor="start">50</text>
<text transform="translate(1648 822) scale(0.928 1)" font-size="9.8" fill="#000" text-anchor="start">15</text>
<text transform="translate(1648 829) scale(0.928 1)" font-size="9.8" fill="#000" text-anchor="start">0</text>
<text x="20" y="45" font-size="9.8" fill="#000" text-anchor="start"><tspan textLength="41" lengthAdjust="spacingAndGlyphs">HK50-,H4</tspan><tspan x="61"> </tspan><tspan x="67.5" textLength="32.5" lengthAdjust="spacingAndGlyphs">18794.0</tspan><tspan x="100.1"> </tspan><tspan x="103.1" textLength="32.5" lengthAdjust="spacingAndGlyphs">18890.0</tspan><tspan x="135.7"> </tspan><tspan x="139.1" textLength="32.5" lengthAdjust="spacingAndGlyphs">18755.5</tspan><tspan x="171.7"> </tspan><tspan x="174.7" textLength="32.5" lengthAdjust="spacingAndGlyphs">18808.0</tspan><tspan x="207.29999999999998"> </tspan></text>
<path d="M7.8 40 H15.2 L11.5 44 Z" fill="#000"/>
<text x="9" y="670" font-size="9.8" fill="#000" text-anchor="start" textLength="133.7" lengthAdjust="spacingAndGlyphs">MACD(12,26,9) -177.58 -191.17</text>
<text x="9" y="755" font-size="9.8" fill="#000" text-anchor="start" textLength="67" lengthAdjust="spacingAndGlyphs">RSI(15) 37.5131</text>
<g shape-rendering="crispEdges">
<rect x="5" y="833" width="1" height="3" fill="#000"/>
<rect x="69" y="833" width="1" height="3" fill="#000"/>
<rect x="133" y="833" width="1" height="3" fill="#000"/>
<rect x="197" y="833" width="1" height="3" fill="#000"/>
<rect x="261" y="833" width="1" height="3" fill="#000"/>
<rect x="325" y="833" width="1" height="3" fill="#000"/>
<rect x="389" y="833" width="1" height="3" fill="#000"/>
<rect x="453" y="833" width="1" height="3" fill="#000"/>
<rect x="517" y="833" width="1" height="3" fill="#000"/>
<rect x="581" y="833" width="1" height="3" fill="#000"/>
<rect x="645" y="833" width="1" height="3" fill="#000"/>
<rect x="709" y="833" width="1" height="3" fill="#000"/>
<rect x="773" y="833" width="1" height="3" fill="#000"/>
<rect x="837" y="833" width="1" height="3" fill="#000"/>
<rect x="901" y="833" width="1" height="3" fill="#000"/>
<rect x="965" y="833" width="1" height="3" fill="#000"/>
<rect x="1029" y="833" width="1" height="3" fill="#000"/>
<rect x="1093" y="833" width="1" height="3" fill="#000"/>
<rect x="1157" y="833" width="1" height="3" fill="#000"/>
<rect x="1221" y="833" width="1" height="3" fill="#000"/>
<rect x="1285" y="833" width="1" height="3" fill="#000"/>
</g>
<text x="5" y="845" font-size="9.8" fill="#000" text-anchor="start" textLength="45.75" lengthAdjust="spacingAndGlyphs">15 Jul 2022</text>
<text x="69" y="845" font-size="9.8" fill="#000" text-anchor="start" textLength="48.75" lengthAdjust="spacingAndGlyphs">19 Jul 05:00</text>
<text x="133" y="845" font-size="9.8" fill="#000" text-anchor="start" textLength="48.75" lengthAdjust="spacingAndGlyphs">21 Jul 05:00</text>
<text x="197" y="845" font-size="9.8" fill="#000" text-anchor="start" textLength="48.75" lengthAdjust="spacingAndGlyphs">25 Jul 05:00</text>
<text x="261" y="845" font-size="9.8" fill="#000" text-anchor="start" textLength="48.75" lengthAdjust="spacingAndGlyphs">27 Jul 05:00</text>
<text x="325" y="845" font-size="9.8" fill="#000" text-anchor="start" textLength="48.75" lengthAdjust="spacingAndGlyphs">29 Jul 05:00</text>
<text x="389" y="845" font-size="9.8" fill="#000" text-anchor="start" textLength="50.3" lengthAdjust="spacingAndGlyphs">2 Aug 05:00</text>
<text x="453" y="845" font-size="9.8" fill="#000" text-anchor="start" textLength="50.3" lengthAdjust="spacingAndGlyphs">4 Aug 05:00</text>
<text x="517" y="845" font-size="9.8" fill="#000" text-anchor="start" textLength="50.3" lengthAdjust="spacingAndGlyphs">8 Aug 05:00</text>
<text x="581" y="845" font-size="9.8" fill="#000" text-anchor="start" textLength="55.3" lengthAdjust="spacingAndGlyphs">10 Aug 05:00</text>
<text x="645" y="845" font-size="9.8" fill="#000" text-anchor="start" textLength="55.3" lengthAdjust="spacingAndGlyphs">12 Aug 05:00</text>
<text x="709" y="845" font-size="9.8" fill="#000" text-anchor="start" textLength="55.3" lengthAdjust="spacingAndGlyphs">16 Aug 05:00</text>
<text x="773" y="845" font-size="9.8" fill="#000" text-anchor="start" textLength="55.3" lengthAdjust="spacingAndGlyphs">18 Aug 05:00</text>
<text x="837" y="845" font-size="9.8" fill="#000" text-anchor="start" textLength="55.3" lengthAdjust="spacingAndGlyphs">22 Aug 05:00</text>
<text x="901" y="845" font-size="9.8" fill="#000" text-anchor="start" textLength="55.3" lengthAdjust="spacingAndGlyphs">24 Aug 05:00</text>
<text x="965" y="845" font-size="9.8" fill="#000" text-anchor="start" textLength="55.3" lengthAdjust="spacingAndGlyphs">29 Aug 01:15</text>
<text x="1029" y="845" font-size="9.8" fill="#000" text-anchor="start" textLength="55.3" lengthAdjust="spacingAndGlyphs">31 Aug 01:15</text>
<text x="1093" y="845" font-size="9.8" fill="#000" text-anchor="start" textLength="49.4" lengthAdjust="spacingAndGlyphs">2 Sep 01:15</text>
<text x="1157" y="845" font-size="9.8" fill="#000" text-anchor="start" textLength="49.4" lengthAdjust="spacingAndGlyphs">6 Sep 01:15</text>
<text x="1221" y="845" font-size="9.8" fill="#000" text-anchor="start" textLength="49.4" lengthAdjust="spacingAndGlyphs">8 Sep 01:15</text>
<text x="1285" y="845" font-size="9.8" fill="#000" text-anchor="start" textLength="54.4" lengthAdjust="spacingAndGlyphs">13 Sep 01:15</text>
</g>
<defs><linearGradient id="gGold" x1="0" y1="0" x2="1" y2="1"><stop offset="0" stop-color="#ffe04a"/><stop offset="0.5" stop-color="#f2bd18"/><stop offset="1" stop-color="#d8950c"/></linearGradient><linearGradient id="gPlus" x1="0" y1="0" x2="0" y2="1"><stop offset="0" stop-color="#4af04a"/><stop offset="0.5" stop-color="#14d814"/><stop offset="1" stop-color="#08a808"/></linearGradient><linearGradient id="gCloud" x1="0" y1="0" x2="0" y2="1"><stop offset="0" stop-color="#ffffff"/><stop offset="1" stop-color="#b8c6dc"/></linearGradient><linearGradient id="gBox" x1="0" y1="0" x2="1" y2="0"><stop offset="0" stop-color="#0a8ef0"/><stop offset="1" stop-color="#3aaaf8"/></linearGradient><linearGradient id="gSig" x1="0" y1="0" x2="1" y2="1"><stop offset="0" stop-color="#2a5fd8"/><stop offset="0.5" stop-color="#7f9fd0"/><stop offset="1" stop-color="#2a9a2a"/></linearGradient><radialGradient id="gSigFill" cx="0.65" cy="0.65" r="0.6"><stop offset="0" stop-color="#9fd69f"/><stop offset="1" stop-color="#f4f6f4"/></radialGradient><linearGradient id="gYel" x1="0" y1="0" x2="1" y2="1"><stop offset="0" stop-color="#fff27a"/><stop offset="1" stop-color="#f0b818"/></linearGradient><radialGradient id="gRed" cx="0.4" cy="0.35" r="0.7"><stop offset="0" stop-color="#ff5030"/><stop offset="1" stop-color="#c81808"/></radialGradient><linearGradient id="gLens" x1="0" y1="0" x2="0" y2="1"><stop offset="0" stop-color="#bfe6fb"/><stop offset="1" stop-color="#eef9ff"/></linearGradient><linearGradient id="gClock" x1="0" y1="0" x2="0" y2="1"><stop offset="0" stop-color="#3a9af0"/><stop offset="1" stop-color="#0a50b0"/></linearGradient><linearGradient id="gGrn" x1="0" y1="0" x2="0" y2="1"><stop offset="0" stop-color="#2a9a0a"/><stop offset="1" stop-color="#4ab02a"/></linearGradient><linearGradient id="gBlu" x1="0" y1="0" x2="0" y2="1"><stop offset="0" stop-color="#1038c0"/><stop offset="1" stop-color="#3a78e8"/></linearGradient><radialGradient id="gBadge" cx="0.5" cy="0.3" r="0.8"><stop offset="0" stop-color="#e8583a"/><stop offset="1" stop-color="#d82810"/></radialGradient></defs>
<g shape-rendering="crispEdges">
<rect x="5" y="6" width="1" height="21" fill="#a0a0a0"/>
<rect x="241" y="4" width="1" height="25" fill="#a0a0a0"/><rect x="242" y="4" width="1" height="25" fill="#fff"/>
<rect x="245" y="7" width="3" height="1" fill="#a8a8a8"/>
<rect x="245" y="9" width="3" height="1" fill="#a8a8a8"/>
<rect x="245" y="11" width="3" height="1" fill="#a8a8a8"/>
<rect x="245" y="13" width="3" height="1" fill="#a8a8a8"/>
<rect x="245" y="15" width="3" height="1" fill="#a8a8a8"/>
<rect x="245" y="17" width="3" height="1" fill="#a8a8a8"/>
<rect x="245" y="19" width="3" height="1" fill="#a8a8a8"/>
<rect x="245" y="21" width="3" height="1" fill="#a8a8a8"/>
<rect x="245" y="23" width="3" height="1" fill="#a8a8a8"/>
<rect x="245" y="25" width="3" height="1" fill="#a8a8a8"/>
<rect x="336" y="6" width="1" height="21" fill="#a0a0a0"/>
<rect x="426" y="6" width="1" height="21" fill="#a0a0a0"/>
<rect x="488" y="6" width="1" height="21" fill="#a0a0a0"/>
<rect x="609" y="4" width="1" height="25" fill="#a0a0a0"/><rect x="610" y="4" width="1" height="25" fill="#fff"/>
<rect x="613" y="7" width="3" height="1" fill="#a8a8a8"/>
<rect x="613" y="9" width="3" height="1" fill="#a8a8a8"/>
<rect x="613" y="11" width="3" height="1" fill="#a8a8a8"/>
<rect x="613" y="13" width="3" height="1" fill="#a8a8a8"/>
<rect x="613" y="15" width="3" height="1" fill="#a8a8a8"/>
<rect x="613" y="17" width="3" height="1" fill="#a8a8a8"/>
<rect x="613" y="19" width="3" height="1" fill="#a8a8a8"/>
<rect x="613" y="21" width="3" height="1" fill="#a8a8a8"/>
<rect x="613" y="23" width="3" height="1" fill="#a8a8a8"/>
<rect x="613" y="25" width="3" height="1" fill="#a8a8a8"/>
<rect x="676" y="6" width="1" height="21" fill="#a0a0a0"/>
<rect x="915" y="4" width="1" height="25" fill="#a0a0a0"/><rect x="916" y="4" width="1" height="25" fill="#fff"/>
<rect x="919" y="7" width="3" height="1" fill="#a8a8a8"/>
<rect x="919" y="9" width="3" height="1" fill="#a8a8a8"/>
<rect x="919" y="11" width="3" height="1" fill="#a8a8a8"/>
<rect x="919" y="13" width="3" height="1" fill="#a8a8a8"/>
<rect x="919" y="15" width="3" height="1" fill="#a8a8a8"/>
<rect x="919" y="17" width="3" height="1" fill="#a8a8a8"/>
<rect x="919" y="19" width="3" height="1" fill="#a8a8a8"/>
<rect x="919" y="21" width="3" height="1" fill="#a8a8a8"/>
<rect x="919" y="23" width="3" height="1" fill="#a8a8a8"/>
<rect x="919" y="25" width="3" height="1" fill="#a8a8a8"/>
<rect x="1176" y="4" width="1" height="25" fill="#a0a0a0"/><rect x="1177" y="4" width="1" height="25" fill="#fff"/>
<rect x="279" y="5" width="26" height="22" fill="#f8f8f8"/>
<rect x="279" y="5" width="26" height="1" fill="#a0a0a0"/><rect x="279" y="5" width="1" height="22" fill="#a0a0a0"/>
<rect x="279" y="26" width="26" height="1" fill="#fff"/><rect x="304" y="5" width="1" height="22" fill="#fff"/>
<rect x="431" y="5" width="25" height="22" fill="#f8f8f8"/>
<rect x="431" y="5" width="25" height="1" fill="#a0a0a0"/><rect x="431" y="5" width="1" height="22" fill="#a0a0a0"/>
<rect x="431" y="26" width="25" height="1" fill="#fff"/><rect x="455" y="5" width="1" height="22" fill="#fff"/>
<rect x="459" y="5" width="25" height="22" fill="#f8f8f8"/>
<rect x="459" y="5" width="25" height="1" fill="#a0a0a0"/><rect x="459" y="5" width="1" height="22" fill="#a0a0a0"/>
<rect x="459" y="26" width="25" height="1" fill="#fff"/><rect x="483" y="5" width="1" height="22" fill="#fff"/>
<rect x="619" y="5" width="25" height="22" fill="#f8f8f8"/>
<rect x="619" y="5" width="25" height="1" fill="#a0a0a0"/><rect x="619" y="5" width="1" height="22" fill="#a0a0a0"/>
<rect x="619" y="26" width="25" height="1" fill="#fff"/><rect x="643" y="5" width="1" height="22" fill="#fff"/>
<rect x="1065" y="5" width="25" height="22" fill="#f8f8f8"/>
<rect x="1065" y="5" width="25" height="1" fill="#a0a0a0"/><rect x="1065" y="5" width="1" height="22" fill="#a0a0a0"/>
<rect x="1065" y="26" width="25" height="1" fill="#fff"/><rect x="1089" y="5" width="1" height="22" fill="#fff"/>
</g>
<path d="M15.5 9.5 h8 l3 3 v10 h-11 z" fill="#fff" stroke="#909090"/><path d="M23.5 9.5 v3 h3" fill="#e8e8e8" stroke="#909090"/><rect x="17" y="11" width="3" height="2" fill="#8c8c8c"/><rect x="17" y="15" width="7" height="1" fill="#9a9a9a"/><rect x="17" y="17" width="5" height="1" fill="#9a9a9a"/><rect x="17" y="19" width="3" height="1" fill="#9a9a9a"/>
<path d="M23 15.5 h4 v3.8 h3.8 v4 h-3.8 v3.8 h-4 v-3.8 h-3.8 v-4 h3.8 z" fill="url(#gPlus)" stroke="#0a8a12" stroke-width="0.9"/><path d="M25 17 v8.6 M20.7 21.3 h8.6" stroke="#9cf79c" stroke-width="1.2" opacity="0.85"/>
<text transform="translate(33.5 19.9) scale(1.03 0.91)" font-size="12" fill="#000" stroke="#000" stroke-width="0.25" font-family="'Liberation Sans','Noto Sans CJK SC',sans-serif">新订单</text>
<path d="M90.5 25 L98 19.4 L97.3 17.2 L89.5 22.5 Z" fill="#efe2a8" stroke="#a8781c" stroke-width="0.8"/><path d="M87.6 10.1 L97.2 16.6 L89.9 23 L82.1 18.9 L86 13.9 Z" fill="url(#gGold)" stroke="#a86a10" stroke-width="1" stroke-linejoin="round"/><path d="M82.2 19 L90 23.2 L90.4 24.8 L82.4 20.4 Z" fill="#f6d678" stroke="#a86a10" stroke-width="0.8"/>
<path d="M112.3 9.3 h8 l2.6 1.8 v8 h-10.6 z" fill="url(#gBox)"/><path d="M112.8 9.8 l3 2.2 v7" stroke="#d8f0ff" stroke-width="0.8" fill="none"/><rect x="117.8" y="13.3" width="4.2" height="1.3" fill="#e8f6ff"/><path d="M112.6 24.4 a3 3 0 0 1 0.2 -5.9 a2.6 2.6 0 0 1 3.6 -1.2 a3.2 3.2 0 0 1 5.4 0.4 a2.2 2.2 0 0 1 2.6 1.6 a2.7 2.7 0 0 1 -0.8 5.1 z" fill="url(#gCloud)" stroke="#4a68a8" stroke-width="0.9"/>
<circle cx="145.9" cy="17.1" r="7.4" fill="url(#gSigFill)"/><g fill="none" stroke="url(#gSig)"><circle cx="145.9" cy="17.1" r="7.3" stroke-width="1.1"/><circle cx="145.9" cy="17.1" r="4.6" stroke-width="1"/></g><path d="M146.4 17.5 v7" stroke="#22a022" stroke-width="1.3"/><circle cx="145.9" cy="16.8" r="1.9" fill="#2458d0"/>
<path d="M165.5 16 L181 15 L175 23 L173 24.6 L171 23.5 Z" fill="url(#gYel)" stroke="#d8a010" stroke-width="0.8"/><ellipse cx="173.1" cy="13.6" rx="7.9" ry="2.9" fill="#5ab0e4" stroke="#2a86b8" stroke-width="0.8"/><ellipse cx="173.1" cy="11.6" rx="3.7" ry="2.6" fill="#7cc4f0" stroke="#2a86b8" stroke-width="0.7"/><circle cx="177.5" cy="20.6" r="4.1" fill="url(#gRed)"/><rect x="176.1" y="19.2" width="2.8" height="2.8" fill="#fff"/>
<text transform="translate(186 19.9) scale(1.0 0.91)" font-size="12" fill="#000" stroke="#000" stroke-width="0.25" font-family="'Liberation Sans','Noto Sans CJK SC',sans-serif">自动交易</text>
<g fill="#4d4d4d" shape-rendering="crispEdges"><rect x="259" y="12" width="1" height="13"/><rect x="257" y="22" width="13" height="1"/></g><path d="M259.5 10.6 l1.9 2.9 h-3.8 z M271.3 22.5 l-2.9 1.9 v-3.8 z" fill="#4d4d4d"/>
<path d="M265.5 12.2 v8.4 M265.5 13.4 h2.5 M263.2 19.4 h2.3" stroke="#0f8a0f" stroke-width="1.3" fill="none"/>
<g fill="#4d4d4d" shape-rendering="crispEdges"><rect x="287" y="12" width="1" height="13"/><rect x="285" y="22" width="13" height="1"/></g><path d="M287.5 10.6 l1.9 2.9 h-3.8 z M299.3 22.5 l-2.9 1.9 v-3.8 z" fill="#4d4d4d"/>
<rect x="291.5" y="11.5" width="4" height="7" fill="#3ae03a" stroke="#0f8a0f"/><path d="M293.5 9.2 v2.3 M293.5 18.5 v2.2" stroke="#0f8a0f" stroke-width="1.2"/>
<g fill="#4d4d4d" shape-rendering="crispEdges"><rect x="315" y="12" width="1" height="13"/><rect x="313" y="22" width="13" height="1"/></g><path d="M315.5 10.6 l1.9 2.9 h-3.8 z M327.3 22.5 l-2.9 1.9 v-3.8 z" fill="#4d4d4d"/>
<path d="M314 20 C317 16 319 13.6 321 14.3 S324.5 18 326.2 18.4" stroke="#2a9a2a" stroke-width="1.1" fill="none"/>
<path d="M355.29999999999995 19.2 l3.6 3.5" stroke="#a87810" stroke-width="3.2" stroke-linecap="square"/><path d="M355.29999999999995 19.2 l3.6 3.5" stroke="#f0d030" stroke-width="1.8" stroke-linecap="square"/><circle cx="350.9" cy="14.9" r="5.5" fill="url(#gLens)" stroke="#2a72c4" stroke-width="1.1"/><path d="M347.9 14.9 h6" stroke="#2a80b0" stroke-width="1.7"/>
<path d="M350.9 11.9 v6" stroke="#2a80b0" stroke-width="1.7"/>
<path d="M383.4 19.2 l3.6 3.5" stroke="#a87810" stroke-width="3.2" stroke-linecap="square"/><path d="M383.4 19.2 l3.6 3.5" stroke="#f0d030" stroke-width="1.8" stroke-linecap="square"/><circle cx="379" cy="14.9" r="5.5" fill="url(#gLens)" stroke="#2a72c4" stroke-width="1.1"/><path d="M376 14.9 h6" stroke="#2a80b0" stroke-width="1.7"/>
<rect x="401" y="9" width="8" height="8" fill="url(#gGrn)"/><rect x="402" y="10" width="1" height="1" fill="#e8f0ff"/><path d="M402.2 12.2 h5.7 v3.8 h-1.2 v-0.8 h-3.3 v0.8 h-1.2 z" fill="#fff"/><rect x="403.3" y="13.2" width="3.5" height="0.9" fill="#8ad070"/>
<rect x="409" y="9" width="8" height="8" fill="url(#gBlu)"/><rect x="410" y="10" width="1" height="1" fill="#e8f0ff"/><path d="M410.2 12.2 h5.7 v3.8 h-1.2 v-0.8 h-3.3 v0.8 h-1.2 z" fill="#fff"/><rect x="411.3" y="13.2" width="3.5" height="0.9" fill="#8aa8f0"/>
<rect x="401" y="17" width="8" height="8" fill="url(#gBlu)"/><rect x="402" y="18" width="1" height="1" fill="#e8f0ff"/><path d="M402.2 20.2 h5.7 v3.8 h-1.2 v-0.8 h-3.3 v0.8 h-1.2 z" fill="#fff"/><rect x="403.3" y="21.2" width="3.5" height="0.9" fill="#8aa8f0"/>
<rect x="409" y="17" width="8" height="8" fill="url(#gGrn)"/><rect x="410" y="18" width="1" height="1" fill="#e8f0ff"/><path d="M410.2 20.2 h5.7 v3.8 h-1.2 v-0.8 h-3.3 v0.8 h-1.2 z" fill="#fff"/><rect x="411.3" y="21.2" width="3.5" height="0.9" fill="#8ad070"/>
<g fill="#4d4d4d" shape-rendering="crispEdges"><rect x="439" y="12" width="1" height="13"/><rect x="437" y="22" width="13" height="1"/></g><path d="M439.5 10.6 l1.9 2.9 h-3.8 z M451.3 22.5 l-2.9 1.9 v-3.8 z" fill="#4d4d4d"/>
<path d="M444.2 13.4 L448 16.5 L444.2 19.8 z" fill="#5fe05f" stroke="#1a9a1a" stroke-width="1"/>
<g fill="#4d4d4d" shape-rendering="crispEdges"><rect x="467" y="12" width="1" height="13"/><rect x="465" y="22" width="13" height="1"/></g><path d="M467.5 10.6 l1.9 2.9 h-3.8 z M479.3 22.5 l-2.9 1.9 v-3.8 z" fill="#4d4d4d"/>
<path d="M473.5 11.2 v9.8" stroke="#1a70a8" stroke-width="1.3"/><path d="M474.2 16.4 l2.6 -2.3 v1.7 h2.2 v1.2 h-2.2 v1.7 z" fill="#e05008"/>
<path d="M498.5 9.5 h8 l3.5 3.5 v9.5 h-11.5 z" fill="#fff" stroke="#909090"/><path d="M506.5 9.5 v3.5 h3.5" fill="#e8e8e8" stroke="#909090"/><path d="M503.8 12.3 q-2 -0.3 -2 2 v6 q0 1.5 -1.2 1.5 M500.3 16.3 h3" stroke="#5a5030" stroke-width="0.9" fill="none"/>
<path d="M506.2 15.5 h4 v3.8 h3.8 v4 h-3.8 v3.6 h-4 v-3.6 h-3.8 v-4 h3.8 z" fill="url(#gPlus)" stroke="#0a8a12" stroke-width="0.9"/><path d="M508.2 17 v8.4 M503.9 21.3 h8.6" stroke="#9cf79c" stroke-width="1.2" opacity="0.85"/>
<path d="M519.7 16 h6 l-3 3.5 z" fill="#000"/>
<circle cx="544" cy="17" r="8" fill="url(#gClock)"/><circle cx="544" cy="17" r="5.6" fill="#f2f6fc"/><path d="M543.6 13.6 v3.6 h2.6" stroke="#303030" stroke-width="1.1" fill="none"/><g fill="#9aa8c0"><circle cx="544" cy="12.6" r="0.4"/><circle cx="544" cy="21.4" r="0.4"/><circle cx="539.6" cy="17" r="0.4"/><circle cx="548.4" cy="17" r="0.4"/></g>
<path d="M559 16 h6 l-3 3.5 z" fill="#000"/>
<rect x="575.7" y="10.7" width="14.8" height="12.8" fill="#fff" stroke="#2a62c0" stroke-width="1"/><rect x="575.2" y="10.2" width="15.8" height="2.3" fill="#2a62c0"/><rect x="576.5" y="10.8" width="13" height="0.7" fill="#8ab0f0"/><rect x="576" y="17.2" width="14.2" height="0.9" fill="#2a62c0"/><path d="M577.5 16.2 l2.2 -0.2 l2.2 -1.4 l2.2 0.8 l2.2 -0.2 l2.2 -1" stroke="#a01808" stroke-width="1.1" fill="none"/><path d="M578 21.4 l2.5 -1 l2.2 0.6 l3 -2 l2.6 2.2" stroke="#189018" stroke-width="1" fill="none"/>
<path d="M598 16 h6 l-3 3.5 z" fill="#000"/>
<path d="M627 10 v12.5 l3 -2.8 l2.2 4.6 l2 -1 l-2.2 -4.5 h4 z" fill="#4d4d4d"/>
<g stroke="#4d4d4d" stroke-width="1" shape-rendering="crispEdges"><path d="M659.5 10 v6 M659.5 19 v6 M652 17.5 h6 M661 17.5 h6"/></g>
<g stroke="#4d4d4d" stroke-width="1" shape-rendering="crispEdges"><path d="M693.5 11 v13 M716 17.5 h12"/></g>
<path d="M744 24 L756 12" stroke="#4d4d4d" stroke-width="1.1"/>
<g stroke="#4d4d4d" stroke-width="0.9" fill="none"><path d="M770 18.6 L782.4 9.8 M770.6 21 L783.4 12.4 M771 23.4 L784.2 15 M772.6 21.8 l1.6 -6.4 M775.4 20.6 l1.8 -7.4 M778.2 18.8 l1.8 -7.6 M781 17 l1.6 -7.8"/></g>
<text x="780.3" y="25.6" font-size="6.5" font-weight="bold" fill="#4d4d4d" font-family="'Liberation Sans',sans-serif">E</text>
<g stroke="#4d4d4d" stroke-width="1" stroke-dasharray="1 1" shape-rendering="crispEdges"><path d="M799 10.5 h14 M799 13.5 h14 M799 17.5 h14 M799 21.5 h9"/></g>
<text x="808.8" y="25.8" font-size="6.5" font-weight="bold" fill="#4d4d4d" font-family="'Liberation Sans',sans-serif">F</text>
<text x="829.6" y="22" font-size="12" stroke="#4d4d4d" stroke-width="0.5" fill="#4d4d4d" font-family="'Liberation Sans',sans-serif">A</text>
<rect x="856.5" y="11.5" width="11" height="12" fill="none" stroke="#4d4d4d" stroke-width="1" stroke-dasharray="1 1" shape-rendering="crispEdges"/>
<text x="858" y="22.3" font-size="11" font-weight="bold" fill="#4d4d4d" font-family="'Liberation Sans',sans-serif">T</text>
<path d="M883 14 l3.5 -3.5 l3.5 3.5 l-3.5 1.5 z M890 21.5 l3.5 -2.5 l3.5 2.5 l-3.5 3 z" fill="#4d4d4d"/><path d="M885.5 17.5 l2 2.5 l4 -5" stroke="#4d4d4d" stroke-width="1.2" fill="none"/>
<path d="M903.5 16 h6 l-3 3.5 z" fill="#000"/>
<text x="930.5" y="21" font-size="10" fill="#3c3c3c" stroke="#3c3c3c" stroke-width="0.1" style="text-rendering:geometricPrecision" textLength="12.5" lengthAdjust="spacingAndGlyphs" font-family="'Liberation Sans',sans-serif">M1</text>
<text x="958.5" y="21" font-size="10" fill="#3c3c3c" stroke="#3c3c3c" stroke-width="0.1" style="text-rendering:geometricPrecision" textLength="12.5" lengthAdjust="spacingAndGlyphs" font-family="'Liberation Sans',sans-serif">M5</text>
<text x="984.8" y="21" font-size="10" fill="#3c3c3c" stroke="#3c3c3c" stroke-width="0.1" style="text-rendering:geometricPrecision" textLength="17.5" lengthAdjust="spacingAndGlyphs" font-family="'Liberation Sans',sans-serif">M15</text>
<text x="1012.8" y="21" font-size="10" fill="#3c3c3c" stroke="#3c3c3c" stroke-width="0.1" style="text-rendering:geometricPrecision" textLength="17.6" lengthAdjust="spacingAndGlyphs" font-family="'Liberation Sans',sans-serif">M30</text>
<text x="1043.6" y="21" font-size="10" fill="#3c3c3c" stroke="#3c3c3c" stroke-width="0.1" style="text-rendering:geometricPrecision" textLength="11.6" lengthAdjust="spacingAndGlyphs" font-family="'Liberation Sans',sans-serif">H1</text>
<text x="1070.5" y="21" font-size="10" fill="#3c3c3c" stroke="#3c3c3c" stroke-width="0.1" style="text-rendering:geometricPrecision" textLength="12.5" lengthAdjust="spacingAndGlyphs" font-family="'Liberation Sans',sans-serif">H4</text>
<text x="1099.7" y="21" font-size="10" fill="#3c3c3c" stroke="#3c3c3c" stroke-width="0.1" style="text-rendering:geometricPrecision" textLength="11.3" lengthAdjust="spacingAndGlyphs" font-family="'Liberation Sans',sans-serif">D1</text>
<text x="1126.9" y="21" font-size="10" fill="#3c3c3c" stroke="#3c3c3c" stroke-width="0.1" style="text-rendering:geometricPrecision" textLength="14.1" lengthAdjust="spacingAndGlyphs" font-family="'Liberation Sans',sans-serif">W1</text>
<text x="1153.6" y="21" font-size="10" fill="#3c3c3c" stroke="#3c3c3c" stroke-width="0.1" style="text-rendering:geometricPrecision" textLength="14.6" lengthAdjust="spacingAndGlyphs" font-family="'Liberation Sans',sans-serif">MN</text>
<circle cx="1646.7" cy="14.6" r="3.7" fill="#f4f6ff" stroke="#2456d4" stroke-width="1.3"/><path d="M1643.6 17.6 l-4 4" stroke="#2456d4" stroke-width="2.6" stroke-linecap="round"/>
<path d="M1663.2 19.2 a4.9 4.2 0 1 1 6.8 3.9 l-2.6 0.2 l-0.9 2.4 l-0.6 -2.6 a4.9 4.2 0 0 1 -2.7 -3.9 z" fill="url(#gCloud)" stroke="#a4a4ac" stroke-width="0.9"/>
<circle cx="1677.45" cy="14.45" r="8.2" fill="url(#gBadge)"/><text x="1676.9" y="19.2" font-size="13.5" font-weight="bold" fill="#fff" text-anchor="middle" font-family="'Liberation Serif',serif">1</text>
</svg>
</body></html>
